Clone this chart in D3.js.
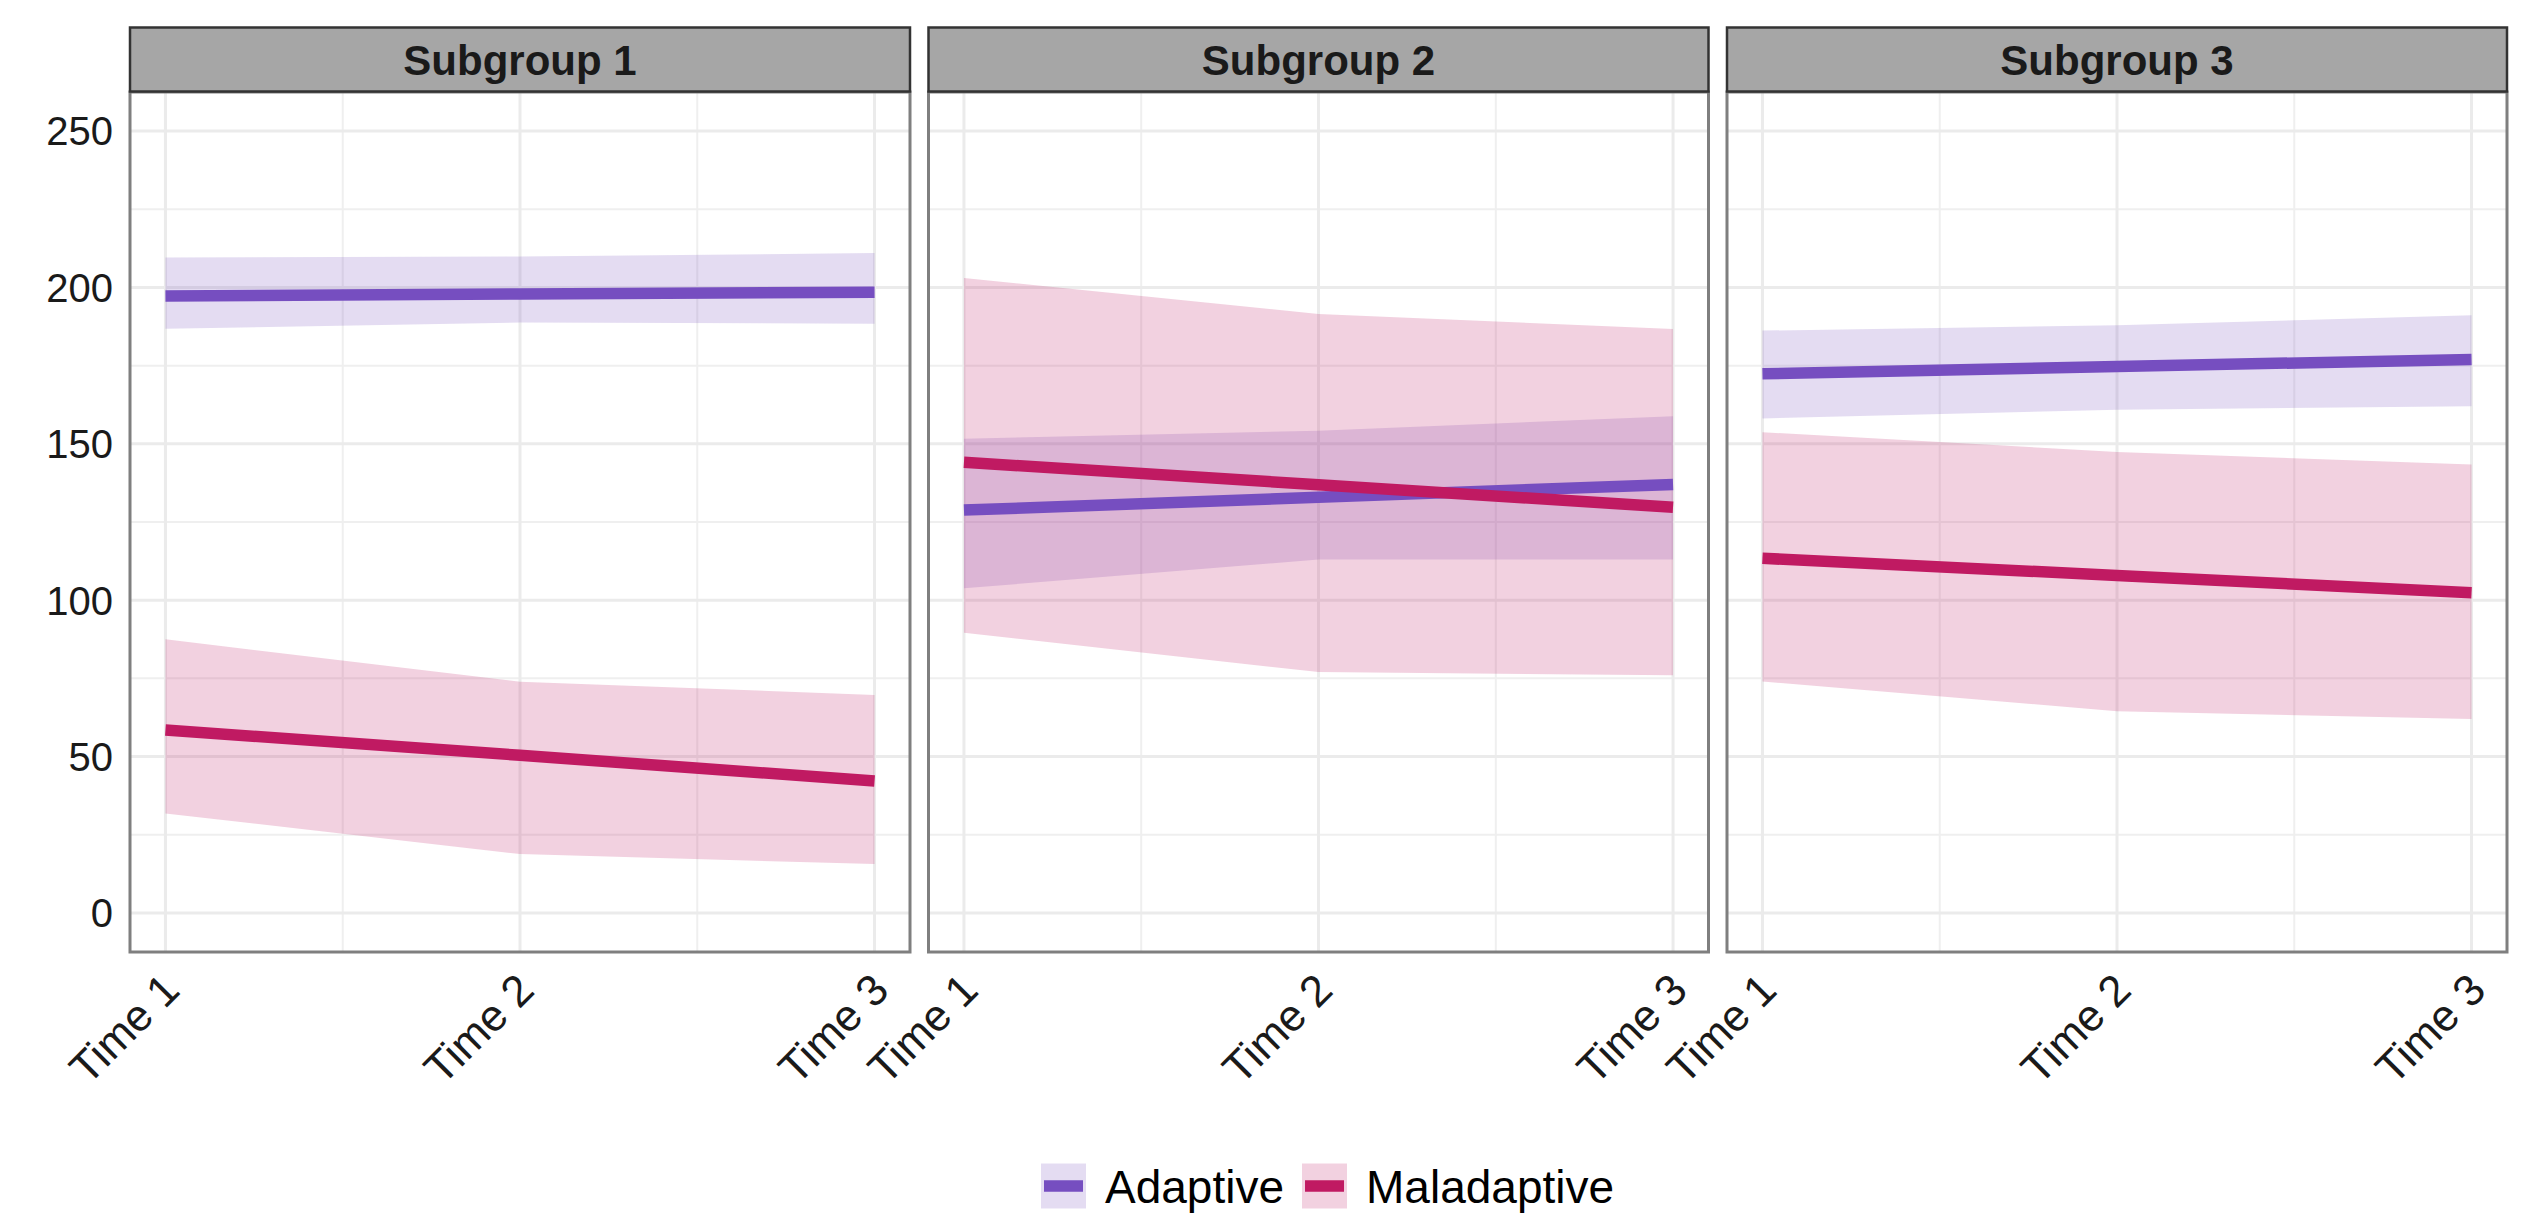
<!DOCTYPE html>
<html>
<head>
<meta charset="utf-8">
<script src="https://cdn.jsdelivr.net/npm/d3@7"></script>
<style>
  body { margin: 0; background: #fff; }
  svg { display: block; font-family: "Liberation Sans", Arial, sans-serif; }
</style>
</head>
<body>
<svg id="chart" width="2537" height="1216"></svg>
<script>
// chart data
var subgroups = ["Subgroup 1", "Subgroup 2", "Subgroup 3"];
var times = [1, 2, 3];
var timeLabels = ["Time 1", "Time 2", "Time 3"];
var yTicks = [0, 50, 100, 150, 200, 250];
var seriesNames = ["Adaptive", "Maladaptive"];

// one row per subgroup, one value per time
var adaptiveMean = [[197.3, 197.9, 198.5], [128.8, 132.9, 137.0], [172.4, 174.7, 177.0]];
var adaptiveLower = [[186.8, 188.8, 188.4], [103.8, 113.0, 113.0], [158.1, 160.9, 162.0]];
var adaptiveUpper = [[209.6, 209.9, 211.0], [151.6, 154.2, 158.8], [186.2, 187.9, 191.1]];

var maladaptiveMean = [[58.5, 50.4, 42.2], [144.1, 136.9, 129.7], [113.4, 107.9, 102.4]];
var maladaptiveLower = [[31.8, 18.8, 15.6], [89.6, 77.0, 76.0], [74.0, 64.5, 62.0]];
var maladaptiveUpper = [[87.5, 73.9, 69.7], [203.0, 191.5, 186.7], [153.7, 147.4, 143.4]];

var colors = { Adaptive: "#764ec0", Maladaptive: "#c01a62" };

var svg = d3.select("#chart");

var panelLeft = 130,
    panelWidth = 780,
    panelGap = 18.5,
    stripTop = 27.5,
    stripHeight = 64,
    panelTop = 92,
    panelBottom = 952;

var x = d3.scaleLinear().domain([0.9, 3.1]).range([0, panelWidth]);
var y = d3.scaleLinear().domain([-12.5, 262.5]).range([panelBottom, panelTop]);

var series = [
  { name: "Adaptive", mean: adaptiveMean, lower: adaptiveLower, upper: adaptiveUpper },
  { name: "Maladaptive", mean: maladaptiveMean, lower: maladaptiveLower, upper: maladaptiveUpper }
];

var area = d3.area()
    .x(function(d) { return x(d.t); })
    .y0(function(d) { return y(d.lo); })
    .y1(function(d) { return y(d.hi); });

var line = d3.line()
    .x(function(d) { return x(d.t); })
    .y(function(d) { return y(d.v); });

// y axis labels, only on the left
svg.append("g")
    .selectAll("text")
    .data(yTicks)
    .enter().append("text")
      .attr("x", panelLeft - 17)
      .attr("y", function(d) { return y(d); })
      .attr("dy", "0.36em")
      .attr("text-anchor", "end")
      .attr("font-size", 40)
      .attr("fill", "#1a1a1a")
      .text(function(d) { return d; });

subgroups.forEach(function(name, i) {
  var left = panelLeft + i * (panelWidth + panelGap);
  var g = svg.append("g").attr("transform", "translate(" + left + ",0)");

  // minor grid
  [25, 75, 125, 175, 225].forEach(function(v) {
    g.append("line")
      .attr("x1", 0).attr("x2", panelWidth)
      .attr("y1", y(v)).attr("y2", y(v))
      .attr("stroke", "#efefef").attr("stroke-width", 2);
  });
  [1.5, 2.5].forEach(function(t) {
    g.append("line")
      .attr("x1", x(t)).attr("x2", x(t))
      .attr("y1", panelTop).attr("y2", panelBottom)
      .attr("stroke", "#efefef").attr("stroke-width", 2);
  });
  // major grid
  yTicks.forEach(function(v) {
    g.append("line")
      .attr("x1", 0).attr("x2", panelWidth)
      .attr("y1", y(v)).attr("y2", y(v))
      .attr("stroke", "#ebebeb").attr("stroke-width", 3);
  });
  times.forEach(function(t) {
    g.append("line")
      .attr("x1", x(t)).attr("x2", x(t))
      .attr("y1", panelTop).attr("y2", panelBottom)
      .attr("stroke", "#ebebeb").attr("stroke-width", 3);
  });

  // ribbons
  series.forEach(function(s) {
    var pts = times.map(function(t, k) {
      return { t: t, lo: s.lower[i][k], hi: s.upper[i][k] };
    });
    g.append("path")
      .datum(pts)
      .attr("d", area)
      .attr("fill", colors[s.name])
      .attr("fill-opacity", 0.2);
  });

  // lines
  series.forEach(function(s) {
    var pts = times.map(function(t, k) { return { t: t, v: s.mean[i][k] }; });
    g.append("path")
      .datum(pts)
      .attr("d", line)
      .attr("fill", "none")
      .attr("stroke", colors[s.name])
      .attr("stroke-width", 11.5);
  });

  // panel border
  g.append("rect")
    .attr("x", 0).attr("y", panelTop)
    .attr("width", panelWidth).attr("height", panelBottom - panelTop)
    .attr("fill", "none")
    .attr("stroke", "#7f7f7f")
    .attr("stroke-width", 3);

  // strip
  g.append("rect")
    .attr("x", 0).attr("y", stripTop)
    .attr("width", panelWidth).attr("height", stripHeight)
    .attr("fill", "#a6a6a6")
    .attr("stroke", "#333333")
    .attr("stroke-width", 2.5);
  g.append("text")
    .attr("x", panelWidth / 2)
    .attr("y", stripTop + stripHeight / 2)
    .attr("dy", "0.36em")
    .attr("text-anchor", "middle")
    .attr("font-size", 42)
    .attr("font-weight", "bold")
    .attr("fill", "#1a1a1a")
    .text(name);

  // x tick labels, rotated 45 degrees
  times.forEach(function(t, k) {
    g.append("text")
      .attr("transform", "translate(" + (x(t) - 6) + "," + (panelBottom + 18) + ") rotate(-45)")
      .attr("dy", "0.72em")
      .attr("text-anchor", "end")
      .attr("font-size", 44)
      .attr("fill", "#1a1a1a")
      .text(timeLabels[k]);
  });
});

// legend
var legend = svg.append("g");
var legendY = 1186, keySize = 45;
var cursor = 1041;
seriesNames.forEach(function(name) {
  legend.append("rect")
    .attr("x", cursor).attr("y", legendY - keySize / 2)
    .attr("width", keySize).attr("height", keySize)
    .attr("fill", colors[name]).attr("fill-opacity", 0.2);
  legend.append("line")
    .attr("x1", cursor + 3).attr("x2", cursor + keySize - 3)
    .attr("y1", legendY).attr("y2", legendY)
    .attr("stroke", colors[name]).attr("stroke-width", 11.5);
  var label = legend.append("text")
    .attr("x", cursor + keySize + 19)
    .attr("y", legendY)
    .attr("dy", "0.36em")
    .attr("font-size", 46)
    .attr("fill", "#000")
    .text(name);
  cursor += keySize + 19 + label.node().getComputedTextLength() + 18;
});
</script>
</body>
</html>
